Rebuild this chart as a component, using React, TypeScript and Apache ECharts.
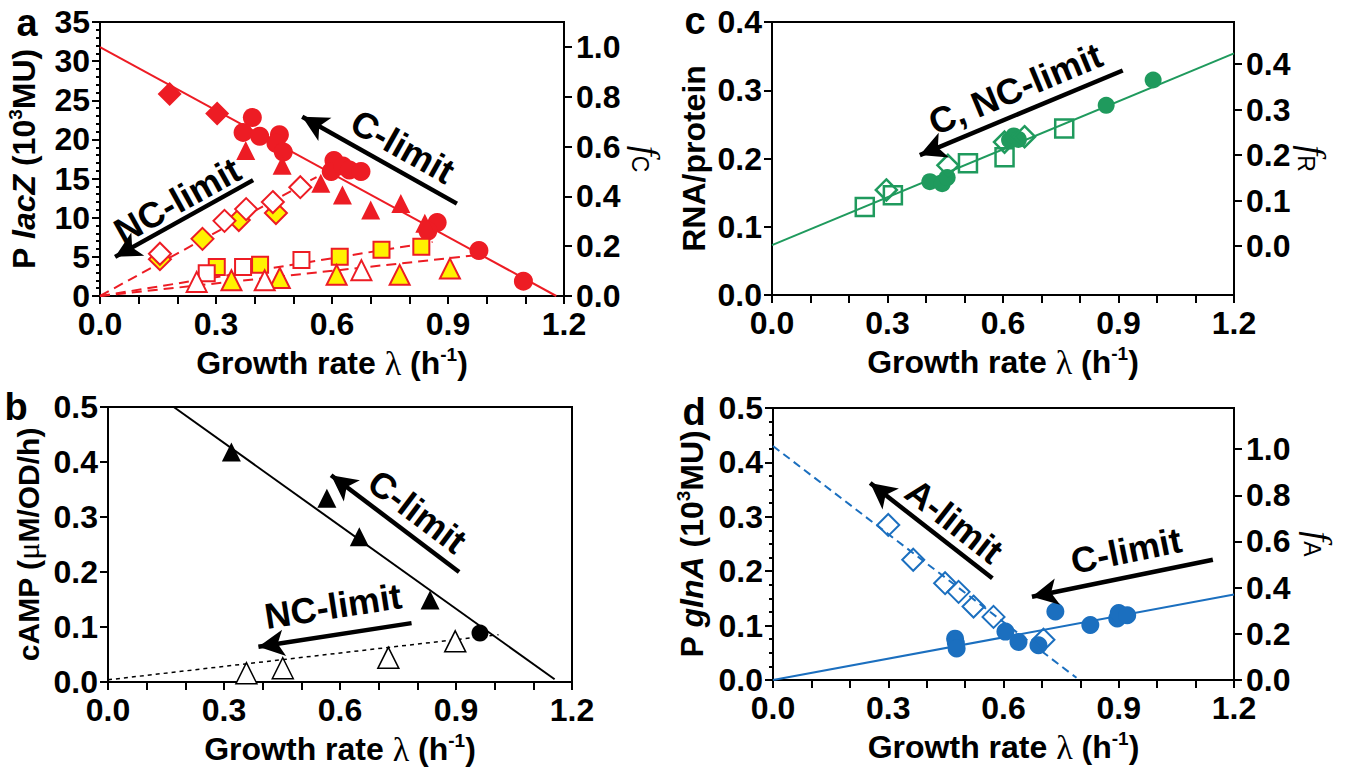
import React, { useEffect, useRef } from 'react';
import * as echarts from 'echarts';

const FONT = '"Liberation Sans", Arial, Helvetica, sans-serif';
const SERIF = '"Liberation Serif", "DejaVu Serif", serif';

const RED = '#ed1c24';
const YELLOW = '#fff200';
const GREEN = '#1f9a5d';
const BLUE = '#1b6fbf';

// ---------- panel a : PlacZ vs growth rate ----------
const aCFit = [[0, 31.8], [1.18, 0]];
const aDiamondFit = [[0, 0], [0.56, 15.2]];
const aSquareFit = [[0, 0], [0.86, 6.9]];
const aTriangleFit = [[0, 0], [0.99, 5.3]];
const aRedDiamonds = [[0.18, 25.8], [0.303, 23.3]];
const aRedCircles = [
  [0.394, 22.8], [0.37, 20.9], [0.413, 20.4], [0.464, 20.6], [0.455, 19.5], [0.474, 18.4],
  [0.605, 17.3], [0.598, 15.9], [0.628, 16.6], [0.645, 16.1], [0.675, 15.9],
  [0.872, 9.4], [0.848, 8.3], [0.98, 5.8], [1.095, 1.9],
];
const aRedTriangles = [[0.377, 18.6], [0.471, 16.7], [0.571, 14.4], [0.627, 12.9], [0.7, 11.0], [0.778, 11.8], [0.84, 9.3]];
const aOpenDiamonds = [[0.155, 5.4], [0.322, 9.6], [0.378, 11.1], [0.447, 12.0], [0.518, 13.9]];
const aYellowDiamonds = [[0.155, 4.7], [0.265, 7.3], [0.359, 9.7], [0.455, 10.6]];
const aOpenSquares = [[0.276, 2.9], [0.37, 3.7], [0.521, 4.6]];
const aYellowSquares = [[0.302, 3.7], [0.414, 4.0], [0.62, 5.0], [0.728, 5.9], [0.831, 6.3]];
const aOpenTriangles = [[0.25, 1.8], [0.426, 2.0], [0.676, 3.3]];
const aYellowTriangles = [[0.34, 2.0], [0.465, 2.3], [0.612, 2.7], [0.775, 2.7], [0.905, 3.5]];
const aRightTicks = [0, 0.2, 0.4, 0.6, 0.8, 1.0];
const aArrows = [
  { tail: [0.923, 11.8], head: [0.523, 22.9], text: 'C-limit', at: [0.783, 19.1] },
  { tail: [0.396, 14.8], head: [0.039, 5.0], text: 'NC-limit', at: [0.2, 12.2] },
];

// ---------- panel b : cAMP ----------
const bCFit = [[0.17, 0.5], [1.155, 0.005]];
const bNCFit = [[0, 0.004], [1.01, 0.086]];
const bFilledTriangles = [[0.319, 0.418], [0.566, 0.334], [0.65, 0.264], [0.833, 0.149]];
const bCircles = [[0.962, 0.089]];
const bOpenTriangles = [[0.358, 0.016], [0.452, 0.025], [0.725, 0.044], [0.898, 0.074]];
const bArrows = [
  { tail: [0.908, 0.2], head: [0.577, 0.376], text: 'C-limit', at: [0.8, 0.31] },
  { tail: [0.785, 0.107], head: [0.389, 0.064], text: 'NC-limit', at: [0.582, 0.138] },
];

// ---------- panel c : RNA/protein ----------
const cFit = [[0, 0.073], [1.2, 0.354]];
const cCircles = [[0.41, 0.166], [0.442, 0.163], [0.455, 0.172], [0.617, 0.227], [0.628, 0.233], [0.64, 0.228], [0.868, 0.278], [0.99, 0.315]];
const cSquares = [[0.241, 0.129], [0.314, 0.146], [0.509, 0.193], [0.604, 0.202], [0.759, 0.244]];
const cDiamonds = [[0.297, 0.154], [0.457, 0.19], [0.604, 0.224], [0.656, 0.232]];
const cRightTicks = [0, 0.1, 0.2, 0.3, 0.4];
const cArrows = [
  { tail: [0.911, 0.329], head: [0.384, 0.205], text: 'C, NC-limit', at: [0.632, 0.302] },
];

// ---------- panel d : PglnA ----------
const dAFit = [[0, 0.43], [0.79, 0.004]];
const dCFit = [[0, 0], [1.2, 0.157]];
const dCircles = [
  [0.474, 0.076], [0.476, 0.068], [0.478, 0.058], [0.605, 0.089], [0.639, 0.07], [0.691, 0.064],
  [0.735, 0.126], [0.826, 0.101], [0.896, 0.113], [0.9, 0.123], [0.922, 0.119],
];
const dDiamonds = [[0.3, 0.285], [0.365, 0.221], [0.448, 0.178], [0.483, 0.162], [0.522, 0.135], [0.574, 0.116], [0.704, 0.074]];
const dRightTicks = [0, 0.2, 0.4, 0.6, 0.8, 1.0];
const dArrows = [
  { tail: [0.571, 0.187], head: [0.253, 0.362], text: 'A-limit', at: [0.472, 0.292] },
  { tail: [1.145, 0.221], head: [0.674, 0.153], text: 'C-limit', at: [0.919, 0.238] },
];

const TICK_FS = 32;
const NAME_FS = 32;
const labelBase = { color: '#000', fontFamily: FONT, fontWeight: 'bold', fontSize: TICK_FS };
const black = { color: '#000', width: 2 };

function makeRich(fs: number) {
  return {
    i: { fontFamily: FONT, fontWeight: 'bold', fontStyle: 'italic', fontSize: fs, lineHeight: 36, color: '#000' },
    s: { fontFamily: FONT, fontWeight: 'bold', fontSize: 19, lineHeight: 20, verticalAlign: 'top', color: '#000' },
    l: { fontFamily: SERIF, fontWeight: 'normal', fontSize: fs + 2, lineHeight: 36, color: '#000' },
    f: { fontFamily: SERIF, fontStyle: 'italic', fontWeight: 'normal', fontSize: 36, lineHeight: 38, color: '#000' },
    sub: { fontFamily: FONT, fontWeight: 'normal', fontSize: 23, lineHeight: 23, verticalAlign: 'bottom', color: '#000' },
  };
}
function nameStyle(fs: number) {
  return { color: '#000', fontFamily: FONT, fontWeight: 'bold', fontSize: fs, lineHeight: 36, rich: makeRich(fs) };
}

function xAxis(grid: number) {
  return {
    type: 'value', gridIndex: grid, min: 0, max: 1.2, interval: 0.3,
    axisLine: { show: true, onZero: false, lineStyle: black },
    axisTick: { show: true, length: 8, lineStyle: black },
    minorTick: { show: true, splitNumber: 3, length: 8, lineStyle: black },
    splitLine: { show: false }, minorSplitLine: { show: false },
    axisLabel: { ...labelBase, margin: 12, formatter: (v: number) => v.toFixed(1) },
    name: 'Growth rate {l|λ} (h{s|-1})', nameLocation: 'middle', nameGap: 49,
    nameTextStyle: nameStyle(NAME_FS),
  };
}

function yLeft(grid: number, max: number, interval: number, minor: number, name: string, gap: number, digits: number, fs = NAME_FS) {
  return {
    type: 'value', gridIndex: grid, position: 'left', min: 0, max, interval,
    axisLine: { show: true, onZero: false, lineStyle: black },
    axisTick: { show: true, length: 8, lineStyle: black },
    minorTick: { show: minor > 0, splitNumber: minor || 1, length: 4, lineStyle: black },
    splitLine: { show: false }, minorSplitLine: { show: false },
    axisLabel: { ...labelBase, margin: 10, formatter: (v: number) => v.toFixed(digits) },
    name, nameLocation: 'middle', nameRotate: 90, nameGap: gap,
    nameTextStyle: nameStyle(fs),
  };
}

function yRight(grid: number, min: number, max: number, ticks: number[], name: string, gap: number) {
  return {
    type: 'value', gridIndex: grid, position: 'right', min, max,
    axisLine: { show: true, onZero: false, lineStyle: black },
    axisTick: { show: true, length: 8, customValues: ticks, lineStyle: black },
    splitLine: { show: false },
    axisLabel: { ...labelBase, margin: 12, customValues: ticks, formatter: (v: number) => Math.abs(v).toFixed(1) },
    name, nameLocation: 'middle', nameRotate: -90, nameGap: gap,
    nameTextStyle: nameStyle(NAME_FS),
  };
}

function sc(xi: number, yi: number, data: number[][], symbol: string, size: number, fill: string, stroke: string, bw: number) {
  return {
    type: 'scatter', xAxisIndex: xi, yAxisIndex: yi, data, symbol, symbolSize: size, silent: true, z: 3,
    itemStyle: { color: fill, borderColor: stroke, borderWidth: bw, opacity: 1 },
  };
}

function ln(xi: number, yi: number, data: number[][], color: string, width: number, type: any, arrows?: any[]) {
  const s: any = {
    type: 'line', xAxisIndex: xi, yAxisIndex: yi, data, symbol: 'none', silent: true, z: 2,
    lineStyle: { color, width, type },
  };
  if (arrows) {
    s.markLine = {
      silent: true, symbol: ['none', 'arrow'], symbolSize: [20, 26],
      lineStyle: { color: '#000', width: 4.5, type: 'solid' },
      label: { show: false },
      data: arrows.map((a) => [{ coord: a.tail }, { coord: a.head }]),
    };
  }
  return s;
}

const panels = [
  { x: 0, y: 0, arrows: aArrows },
  { x: 1, y: 2, arrows: bArrows },
  { x: 2, y: 3, arrows: cArrows },
  { x: 3, y: 5, arrows: dArrows },
];

function buildOption() {
  return {
    animation: false,
    grid: [
      { left: 100, top: 22, width: 464, height: 274 },
      { left: 108, top: 407, width: 464, height: 275 },
      { left: 772, top: 22, width: 462, height: 273 },
      { left: 773, top: 408, width: 461, height: 272 },
    ].map((g) => ({ ...g, show: true, borderColor: '#000', borderWidth: 2, backgroundColor: 'transparent' })),
    xAxis: [xAxis(0), xAxis(1), xAxis(2), xAxis(3)],
    yAxis: [
      yLeft(0, 35, 5, 5, 'P {i|lacZ} (10{s|3}MU)', 58, 0),
      yRight(0, 0, 1.1, aRightTicks, '{f|f}{sub|C}', 64),
      yLeft(1, 0.5, 0.1, 0, 'cAMP ({l|μ}M/OD/h)', 62, 1, 30),
      yLeft(2, 0.4, 0.1, 0, 'RNA/protein', 60, 1),
      yRight(2, -0.107, 0.492, cRightTicks, '{f|f}{sub|R}', 60),
      yLeft(3, 0.5, 0.1, 4, 'P {i|glnA} (10{s|3}MU)', 63, 1),
      yRight(3, 0, 1.178, dRightTicks, '{f|f}{sub|A}', 66),
    ],
    series: [
      // panel a
      ln(0, 0, aCFit, RED, 2, 'solid', aArrows),
      ln(0, 0, aDiamondFit, RED, 2, [10, 6]),
      ln(0, 0, aSquareFit, RED, 2, [10, 6]),
      ln(0, 0, aTriangleFit, RED, 2, [10, 6]),
      sc(0, 0, aRedDiamonds, 'diamond', 24, RED, RED, 0),
      sc(0, 0, aRedCircles, 'circle', 19, RED, RED, 0),
      sc(0, 0, aRedTriangles, 'triangle', 19, RED, RED, 0),
      sc(0, 0, aYellowDiamonds, 'diamond', 22, YELLOW, RED, 2),
      sc(0, 0, aOpenDiamonds, 'diamond', 22, '#fff', RED, 2),
      sc(0, 0, aYellowSquares, 'rect', 16, YELLOW, RED, 2),
      sc(0, 0, aOpenSquares, 'rect', 16, '#fff', RED, 2),
      sc(0, 0, aYellowTriangles, 'triangle', 20, YELLOW, RED, 2),
      sc(0, 0, aOpenTriangles, 'triangle', 20, '#fff', RED, 2),
      // panel b
      ln(1, 2, bCFit, '#000', 2, 'solid', bArrows),
      ln(1, 2, bNCFit, '#000', 1.5, [4, 4]),
      sc(1, 2, bFilledTriangles, 'triangle', 19, '#000', '#000', 0),
      sc(1, 2, bCircles, 'circle', 17, '#000', '#000', 0),
      sc(1, 2, bOpenTriangles, 'triangle', 21, '#fff', '#000', 1.5),
      // panel c
      ln(2, 3, cFit, GREEN, 2, 'solid', cArrows),
      sc(2, 3, cCircles, 'circle', 17, GREEN, GREEN, 0),
      sc(2, 3, cSquares, 'rect', 18, 'rgba(255,255,255,0)', GREEN, 2.5),
      sc(2, 3, cDiamonds, 'diamond', 21, 'rgba(255,255,255,0)', GREEN, 2.5),
      // panel d
      ln(3, 5, dCFit, BLUE, 2, 'solid', dArrows),
      ln(3, 5, dAFit, BLUE, 2, [8, 5]),
      sc(3, 5, dCircles, 'circle', 18, BLUE, BLUE, 0),
      sc(3, 5, dDiamonds, 'diamond', 22, 'rgba(255,255,255,0)', BLUE, 2),
    ],
  };
}

const panelLabels = [
  { text: 'a', x: 27, y: 23 },
  { text: 'b', x: 16, y: 407 },
  { text: 'c', x: 695, y: 21 },
  { text: 'd', x: 694, y: 412 },
];

export default function App() {
  const ref = useRef<HTMLDivElement>(null);
  useEffect(() => {
    const chart = echarts.init(ref.current as HTMLDivElement, null, { renderer: 'svg' });
    chart.setOption(buildOption() as any);
    const graphics: any[] = panelLabels.map((p) => ({
      type: 'text', x: p.x, y: p.y, silent: true,
      style: { text: p.text, fontFamily: FONT, fontWeight: 'bold', fontSize: 38, fill: '#000', textAlign: 'center', textVerticalAlign: 'middle', align: 'center', verticalAlign: 'middle' },
    }));
    panels.forEach((p) => {
      p.arrows.forEach((a) => {
        const finder = { xAxisIndex: p.x, yAxisIndex: p.y };
        const t = chart.convertToPixel(finder, a.tail) as number[];
        const h = chart.convertToPixel(finder, a.head) as number[];
        const c = chart.convertToPixel(finder, a.at) as number[];
        let r = -Math.atan2(h[1] - t[1], h[0] - t[0]);
        while (r > Math.PI / 2) r -= Math.PI;
        while (r <= -Math.PI / 2) r += Math.PI;
        graphics.push({
          type: 'text', x: c[0], y: c[1], rotation: r, silent: true,
          style: { text: a.text, fontFamily: FONT, fontWeight: 'bold', fontSize: 36, fill: '#000', textAlign: 'center', textVerticalAlign: 'middle', align: 'center', verticalAlign: 'middle' },
        });
      });
    });
    chart.setOption({ graphic: graphics });
    return () => chart.dispose();
  }, []);
  return <div ref={ref} style={{ position: 'absolute', left: 0, top: 0, width: 1350, height: 768 }} />;
}
